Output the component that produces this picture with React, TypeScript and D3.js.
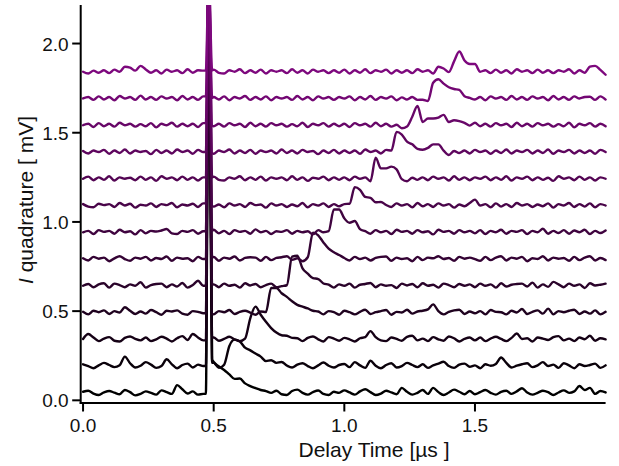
import React from "react";
import * as d3 from "d3";

const W = 619;
const H = 466;

// vertical offsets of the 13 traces (mV), bottom to top
const offsets = [0.04, 0.19, 0.34, 0.49, 0.64, 0.79, 0.94, 1.09, 1.24, 1.39, 1.54, 1.69, 1.84];

// sampling grid (µs): every 0.02 µs except the spike instant, which is given separately
const gridTimes = d3.range(101).map((k) => Math.round(k * 2) / 100).filter((t) => Math.abs(t - 0.48) > 1e-9);

// the common spike near 0.48 µs
const spikeTimes = [0.47, 0.481, 0.494];
const spikePeak = [2.36, 2.21, 2.06, 1.91, 1.76, 1.61, 1.46, 1.31, 1.16, 1.01, 0.86, 0.71, 0.56]; // mV above each offset
const spikeTail = [190, 20, 10, -5, 8, 10, 12, 0, 10, -5, 0, 6, 10]; // µV right after the spike

// trace values in µV: t = 0.00..0.46 (24), 0.50..0.98 (25), 1.00..1.48 (25), 1.50..2.00 (26)
const trace0 = [
  8, 14, -2, -10, 4, 12, 3, -6, 18, 6, -12, -4, 10, 2, -8, 16, 6, -4, 45, 22, -2, 10, -8, -4,
  175, 150, 130, 105, 80, 82, 55, 40, 28, 18, 12, 2, 14, -6, -10, 12, 20, 2, -8, 6, 15, -4, -10, 8, 2,
  16, 4, -8, 10, 22, 6, -10, -2, 14, 4, -6, 30, 8, -8, 2, 18, -4, 30, 6, -10, 4, 20, 8, -6, 12,
  -6, 6, 18, 2, -8, 8, 14, -4, 10, 28, 4, -8, 2, 14, 6, -10, 4, 16, 2, 10, 40, 18, 30, -4, 12, 4,
];
const trace1 = [
  12, 2, -10, 6, 20, 8, -4, 6, 55, 18, -6, 4, 24, 10, -8, 2, 40, 12, -10, 8, 16, -6, 10, 2,
  20, -8, 10, 115, 150, 140, 105, 90, 72, 55, 30, 35, 20, 25, 5, -6, 10, 18, 2, -10, 6, 22, 4, -6, 8,
  14, -4, 24, 6, -8, 32, 4, -10, 8, 18, -6, 2, 20, 8, -4, 12, -8, 6, 16, 26, 2, -8, 10, 16, -2,
  6, -10, 12, 4, 14, 50, 20, -6, 4, 12, 18, -4, 6, 24, 2, 10, -8, 18, 6, -10, 12, 2, 8, 16, -8, 6,
];
const trace2 = [
  4, 32, 12, -8, 6, 14, -6, -10, 10, 18, 4, -4, 12, -8, 2, 16, 6, -10, 8, 20, -2, 32, 12, -4,
  12, -6, 4, 16, 2, -8, 6, 120, 185, 140, 100, 65, 40, 25, 22, 10, 8, -8, 10, 18, 2, -10, 14, 6, -6,
  10, 2, -10, 8, 14, 48, 14, -4, -8, 12, 4, -6, 16, 22, -4, 6, -8, 14, 2, -6, 18, 8, -10, 4, 12,
  -4, 12, -8, 6, 16, 4, -8, 10, 35, 4, 8, -10, 12, 6, -2, 14, 20, -4, 6, -8, 12, 2, 22, -6, 8, 2,
];
const trace3 = [
  6, -8, 12, 4, 14, -6, 10, 2, 32, 12, -6, 8, -4, 16, 4, -10, 12, 8, 14, -4, -10, 10, 6, -2,
  -8, 10, 4, 16, -6, 6, 12, 2, -10, 8, 5, 140, 140, 110, 90, 65, 45, 35, 25, 12, 8, -8, 10, 4, -10,
  12, 4, -8, 6, 18, -6, 4, 10, 16, -10, 6, 2, 18, -4, 8, 12, 20, 48, 10, -8, 6, 14, 18, -6, 8,
  -2, 10, -8, 16, 6, 4, -8, 12, 2, 22, -6, 6, 14, -4, 24, -8, 10, 4, 12, 18, -6, 8, -4, 14, -8, 6,
];
const trace4 = [
  2, 12, -6, 10, 16, -8, 14, 6, -6, 10, 2, 22, -8, 6, 12, 14, -6, 10, -2, 18, -8, 6, 30, 2,
  10, -6, 14, 2, 8, -8, 16, 4, 12, -6, 6, 14, -6, 0, 5, 165, 170, 100, 70, 45, 40, 15, 8, -8, 10,
  2, 14, -8, 8, 12, 18, -6, 10, 2, 6, -10, 14, 4, 12, -6, 16, 2, 8, -8, 14, 6, -6, 12, 2, 10,
  -6, 14, 2, 10, -8, 16, -2, 8, 12, 14, -2, 20, -8, 10, -4, 24, 10, -6, 14, 2, 10, -10, 16, 4, 8, 14,
];
const trace5 = [
  6, -6, 14, 4, 10, -10, 6, 18, 2, -8, 10, 4, 14, -6, 8, 2, 16, -8, 10, 4, 6, -10, 14, 2,
  14, -8, 10, 4, 16, -6, 8, 12, 10, -8, 14, -4, 8, 12, 18, -2, 6, -10, 12, 150, 135, 95, 60, 40, 25,
  8, -6, 14, 2, 10, -6, 8, 14, 16, -8, 10, 2, 6, -10, 14, -4, 10, 6, 18, 2, 8, -8, 14, 4, 10,
  2, -8, 14, -4, 10, 18, -6, 10, 4, 14, -10, 6, 2, 18, -6, 10, 4, 8, -8, 14, -4, 10, 18, -6, 8, -4,
];
const trace6 = [
  2, 10, -8, 14, 4, 10, -6, 16, 2, 8, -10, 14, -4, 10, 6, 12, 20, -4, -8, 10, 4, 14, -6, 8,
  16, -4, 10, -8, 14, 4, 10, -6, 18, 2, 10, -8, 8, 4, 14, -6, 10, 2, 8, -10, 14, 2, 8, 130, 130,
  80, 55, 65, 20, 8, -6, 14, 2, 10, -8, 16, 4, 10, -6, 14, 2, 8, -10, 16, 4, 10, -6, 14, 2, 10,
  -4, 14, -8, 10, 2, 16, -6, 10, 4, 14, -8, 10, 2, 22, -6, 10, -2, 14, -6, 12, 2, 16, -8, 10, -2, 12,
];
const trace7 = [
  10, -4, -8, 12, 4, 10, -6, 16, 2, 12, -10, 6, 2, 14, -6, 10, 4, 16, -8, 8, 2, 12, -6, 14,
  -4, 8, -8, 14, 2, 10, -6, 16, 4, 8, -10, 14, 2, 10, -6, 8, -2, 16, -8, 10, 2, 14, -6, 10, -2,
  10, 12, 105, 90, 50, 45, 20, 22, 5, -6, 14, 2, 10, -8, 16, -2, 10, -6, 14, 2, 10, -10, 8, -2, 16,
  35, 2, 10, -8, 14, -4, 10, -6, 16, 2, 10, -6, 8, -2, 14, -10, 10, 2, 16, -6, 10, -4, 14, -8, 10, 2,
];
const trace8 = [
  2, 14, -6, 10, -4, 16, -8, 10, 2, 8, -6, 14, -4, 10, -10, 16, 2, 10, -6, 14, -4, 10, -8, 10,
  14, -4, -8, 10, 2, 16, -6, 10, -4, 14, -8, 10, 2, 10, -6, 16, -4, 10, -10, 8, 2, 14, -6, 10, -4,
  10, -6, 14, 2, 10, -12, 120, 60, 60, 70, 55, 0, -12, 8, -4, 10, -6, 14, 2, 10, -8, 16, -4, 10, -6,
  10, 2, 14, -6, 10, -4, 16, -8, 10, 2, 14, -6, 10, -4, 8, -10, 16, 2, 10, -6, 14, -4, 10, -8, 10, 2,
];
const trace9 = [
  8, -6, 10, 2, 14, -8, 10, -4, 16, -6, 10, 2, 8, -10, 14, -4, 10, -6, 16, 2, 10, -8, 14, 2,
  -8, 10, 2, 16, -6, 10, -4, 14, -8, 10, 2, 10, -6, 16, -4, 10, -6, 14, 2, 8, -10, 10, -4, 14, -6,
  10, -4, 10, -8, 16, 2, 10, -6, 14, 10, 115, 100, 60, 45, 20, 15, 25, 45, 45, 10, -15, 8, -4, 10, -6,
  14, 2, 10, -8, 10, -4, 16, -6, 10, 2, 14, -6, 10, -4, 16, -8, 10, 2, 14, -6, 10, -4, 10, -8, 14, 2,
];
const trace10 = [
  2, 10, -8, 14, -4, 10, -6, 16, 2, 10, -6, 8, -4, 14, -10, 10, 2, 16, -6, 10, -4, 10, -8, 14,
  -4, 10, -6, 14, 2, 10, -8, 16, -4, 10, -6, 14, 2, 10, -6, 8, -4, 16, -8, 10, 2, 14, -6, 10, -4,
  10, -8, 14, 2, 10, -6, 16, -4, 10, -6, 5, -15, -5, 50, 110, 20, 40, 40, 45, 60, 20, 30, 25, 15, 0,
  16, -4, 10, -6, 14, 2, 10, -8, 16, -4, 10, -6, 14, 2, 10, -6, 8, -4, 16, -10, 10, 2, 14, -6, 10, -4,
];
const trace11 = [
  2, 10, -6, 14, -4, 10, -8, 16, 2, 10, -6, 18, -4, 10, -6, 14, 2, 10, -8, 16, -4, 10, -6, 14,
  10, -4, 14, -8, 10, 2, 16, -6, 10, -4, 14, -8, 10, 2, 10, -6, 16, -4, 10, -8, 14, 2, 10, -6, 10,
  2, 14, -8, 10, -4, 16, -6, 10, 2, 14, -8, 8, -4, 10, -6, -5, -12, 90, 110, 85, 65, 55, 50, 15, 5,
  -4, 10, -8, 14, 2, 10, -6, 16, -4, 10, -6, 14, 2, 10, -8, 16, -4, 10, -6, 14, 2, 10, 12, -6, 14, -4,
];
const trace12 = [
  2, -8, 8, -4, 10, -6, 14, 2, 30, 25, 8, 35, 15, -4, 10, -8, 14, 2, 10, -6, 16, -4, 10, 8,
  14, -4, -8, 10, 2, 16, -6, 10, -4, 14, -8, 10, 2, 10, -6, 16, -4, 10, -8, 14, 2, 10, -6, 10, -4,
  14, -8, 10, -4, 16, -6, 10, 2, 14, -8, 10, -4, 10, -6, 16, 2, 10, -8, 30, 20, 0, 60, 115, 65, 45,
  45, 2, 10, -6, 14, -4, 10, -8, 16, 2, 10, -6, 14, -4, 10, -6, 10, 2, 16, -8, 10, -4, 30, 35, 12, -15,
];

const traces = [trace0, trace1, trace2, trace3, trace4, trace5, trace6, trace7, trace8, trace9, trace10, trace11, trace12];

const xTicks = [0, 0.5, 1.0, 1.5];
const yTicks = [0, 0.5, 1.0, 1.5, 2.0];

const FONT = "'Liberation Sans', Arial, Helvetica, sans-serif";

export default function App() {
  const x = d3.scaleLinear().domain([-0.009, 2.0]).range([80.7, 605.6]);
  const y = d3.scaleLinear().domain([-0.015, 2.216]).range([403, 5]);
  const color = d3.interpolateRgb("#000000", "#7d087d");
  const fmt = d3.format(".1f");

  const line = d3
    .line<[number, number]>()
    .x((d) => x(d[0]))
    .y((d) => y(d[1]))
    .curve(d3.curveMonotoneX);

  const buildPoints = (vals: number[], i: number): [number, number][] => {
    const off = offsets[i];
    const pts: [number, number][] = [];
    for (let k = 0; k < 24; k++) pts.push([gridTimes[k], off + vals[k] / 1000]);
    pts.push([spikeTimes[0], off + vals[23] / 1000]);
    pts.push([spikeTimes[1], off + spikePeak[i]]);
    pts.push([spikeTimes[2], off + spikeTail[i] / 1000]);
    for (let k = 24; k < vals.length && k < gridTimes.length; k++) pts.push([gridTimes[k], off + vals[k] / 1000]);
    return pts;
  };

  const x0 = x.range()[0];
  const x1 = x.range()[1];
  const yb = y.range()[0];
  const yt = y.range()[1];

  return (
    <svg width={W} height={H} style={{ position: "absolute", left: 0, top: 0, background: "#fff" }} fontFamily={FONT}>
      <defs>
        <clipPath id="plotclip">
          <rect x={x0} y={yt} width={x1 - x0 + 4} height={yb - yt} />
        </clipPath>
      </defs>
      <rect x={0} y={0} width={W} height={H} fill="#fff" />
      <g clipPath="url(#plotclip)">
        {traces.map((vals, i) => (
          <path
            key={i}
            d={line(buildPoints(vals, i)) || ""}
            fill="none"
            stroke={color(i / (traces.length - 1))}
            strokeWidth={2.4}
            strokeLinejoin="round"
            strokeLinecap="round"
          />
        ))}
      </g>
      {/* axes */}
      <line x1={x0} x2={x0} y1={yt} y2={yb + 1} stroke="#000" strokeWidth={2} />
      <line x1={x0 - 1} x2={x1} y1={yb} y2={yb} stroke="#000" strokeWidth={2} />
      {yTicks.map((t) => (
        <g key={"y" + t}>
          <line x1={x0 - 8.5} x2={x0} y1={y(t)} y2={y(t)} stroke="#000" strokeWidth={2} />
          <text x={x0 - 12} y={y(t) + 7} textAnchor="end" fontSize={19} fill="#111">
            {fmt(t)}
          </text>
        </g>
      ))}
      {xTicks.map((t) => (
        <g key={"x" + t}>
          <line x1={x(t)} x2={x(t)} y1={yb} y2={yb + 8.5} stroke="#000" strokeWidth={2} />
          <text x={x(t)} y={432} textAnchor="middle" fontSize={19} fill="#111">
            {fmt(t)}
          </text>
        </g>
      ))}
      <text x={374} y={457} textAnchor="middle" fontSize={21} fill="#111">
        Delay Time [µs ]
      </text>
      <text transform="translate(33,200) rotate(-90)" textAnchor="middle" fontSize={21} fill="#111">
        <tspan fontStyle="italic">I</tspan> quadrature [ mV]
      </text>
    </svg>
  );
}
